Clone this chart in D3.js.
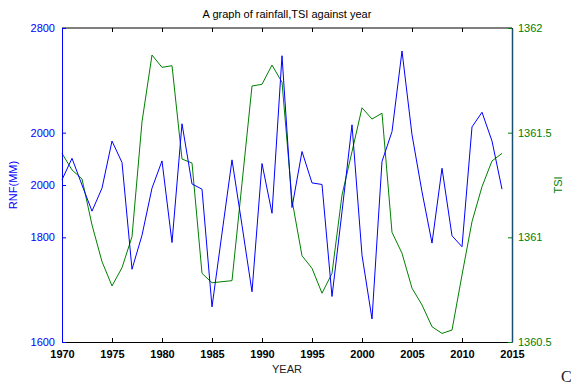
<!DOCTYPE html>
<html>
<head>
<meta charset="utf-8">
<script src="https://cdn.jsdelivr.net/npm/d3@7"></script>
<style>
  body { margin: 0; background: #fff; }
  svg { font-family: "Liberation Sans", Arial, sans-serif; }
</style>
</head>
<body>
<div id="chart"></div>
<script>
const years = d3.range(1970, 2015);
const rainfall = [
  1910, 1951, 1900, 1850, 1894, 1984, 1943, 1739, 1804, 1894,
  1946, 1790, 2017, 1902, 1892, 1667, 1808, 1948, 1823, 1696,
  1941, 1846, 2147, 1857, 1964, 1904, 1901, 1687, 1849, 2015,
  1766, 1644, 1945, 2002, 2156, 1996, 1887, 1789, 1932, 1803,
  1782, 2011, 2039, 1984, 1892
];
const tsi = [
  1361.401, 1361.322, 1361.279, 1361.059, 1360.884, 1360.768, 1360.855, 1361.003, 1361.552, 1361.871,
  1361.812, 1361.820, 1361.374, 1361.355, 1360.828, 1360.783, 1360.788, 1360.793, 1361.258, 1361.723,
  1361.731, 1361.823, 1361.741, 1361.178, 1360.912, 1360.852, 1360.733, 1360.828, 1361.202, 1361.409,
  1361.619, 1361.565, 1361.593, 1361.024, 1360.924, 1360.757, 1360.677, 1360.573, 1360.541, 1360.557,
  1360.820, 1361.075, 1361.242, 1361.365, 1361.401
];
const xTicks = [1970, 1975, 1980, 1985, 1990, 1995, 2000, 2005, 2010, 2015];
const leftTicks = [1600, 1800, 1900, 2000, 2200];
const leftTickLabels = ['1600', '1800', '2000', '2000', '2800'];
const rightTicks = [1360.5, 1361, 1361.5, 1362];
const rightTickLabels = ['1360.5', '1361', '1361.5', '1362'];

const width = 571, height = 390;
const margins = { top: 28, right: 59, bottom: 48, left: 62 };
const chartWidth = width - margins.left - margins.right;
const chartHeight = height - margins.top - margins.bottom;

const blue = '#0000ff';
const green = '#008000';

const svg = d3.select('#chart').append('svg')
  .attr('width', width)
  .attr('height', height);

const g = svg.append('g')
  .attr('transform', `translate(${margins.left},${margins.top})`);

const xScale = d3.scaleLinear().domain([1970, 2015]).range([0, chartWidth]);
const yLeft = d3.scaleLinear().domain([1600, 2200]).range([chartHeight, 0]);
const yRight = d3.scaleLinear().domain([1360.5, 1362]).range([chartHeight, 0]);

// top border
g.append('line').attr('x1', 0).attr('x2', chartWidth).attr('y1', 0).attr('y2', 0)
  .attr('stroke', '#000').attr('stroke-width', 1);

// series
const rnfLine = d3.line().x((d, i) => xScale(years[i])).y(d => yLeft(d));
const tsiLine = d3.line().x((d, i) => xScale(years[i])).y(d => yRight(d));

g.append('path').attr('d', tsiLine(tsi))
  .attr('fill', 'none').attr('stroke', green).attr('stroke-width', 1);
g.append('path').attr('d', rnfLine(rainfall))
  .attr('fill', 'none').attr('stroke', blue).attr('stroke-width', 1);

// bottom x axis (ticks inside)
const xAxis = g.append('g').attr('transform', `translate(0,${chartHeight})`)
  .call(d3.axisBottom(xScale).tickValues(xTicks).tickFormat(d3.format('d'))
    .tickSizeInner(-4).tickSizeOuter(0).tickPadding(8));
xAxis.select('.domain').attr('stroke', '#000');
xAxis.selectAll('.tick line').attr('stroke', '#000');
xAxis.selectAll('.tick text')
  .attr('fill', '#000').style('font-size', '11px').style('font-weight', 'bold');

// top ticks
const xTop = g.append('g')
  .call(d3.axisTop(xScale).tickValues(xTicks).tickSizeInner(-4).tickSizeOuter(0).tickFormat(''));
xTop.select('.domain').remove();
xTop.selectAll('.tick line').attr('stroke', '#000');

// left axis
const leftAxis = g.append('g')
  .call(d3.axisLeft(yLeft).tickValues(leftTicks)
    .tickFormat((d, i) => leftTickLabels[i])
    .tickSizeInner(-4).tickSizeOuter(0).tickPadding(7));
leftAxis.select('.domain').attr('stroke', blue);
leftAxis.selectAll('.tick line').attr('stroke', blue);
leftAxis.selectAll('.tick text')
  .attr('fill', blue).style('font-size', '11px');

// right axis
const rightAxis = g.append('g').attr('transform', `translate(${chartWidth},0)`)
  .call(d3.axisRight(yRight).tickValues(rightTicks)
    .tickFormat((d, i) => rightTickLabels[i])
    .tickSizeInner(-4).tickSizeOuter(0).tickPadding(6));
rightAxis.select('.domain').attr('stroke', '#1b4f72').attr('stroke-width', 1.5);
rightAxis.selectAll('.tick line').attr('stroke', green);
rightAxis.selectAll('.tick text')
  .attr('fill', green).style('font-size', '11px');

// title and labels
svg.append('text')
  .attr('x', margins.left + chartWidth / 2).attr('y', 18)
  .attr('text-anchor', 'middle').style('font-size', '11px').attr('fill', '#000')
  .text('A graph of rainfall,TSI against year');

svg.append('text')
  .attr('x', margins.left + chartWidth / 2).attr('y', 373)
  .attr('text-anchor', 'middle').style('font-size', '11px').attr('fill', '#222')
  .text('YEAR');

svg.append('text')
  .attr('transform', `translate(17,${margins.top + chartHeight / 2}) rotate(-90)`)
  .attr('text-anchor', 'middle').style('font-size', '11px').attr('fill', blue)
  .text('RNF(MM)');

svg.append('text')
  .attr('transform', `translate(562,${margins.top + chartHeight / 2}) rotate(-90)`)
  .attr('text-anchor', 'middle').style('font-size', '11px').attr('fill', green)
  .text('TSI');

svg.append('text')
  .attr('x', 561).attr('y', 382)
  .style('font-family', '"Liberation Serif", serif').style('font-size', '16px').attr('fill', '#222')
  .text('C');
</script>
</body>
</html>
